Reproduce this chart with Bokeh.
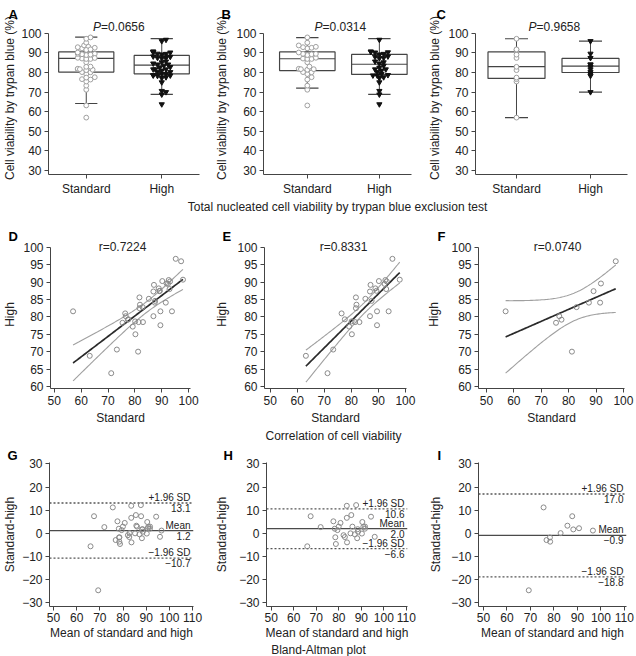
import numpy as np
from bokeh.plotting import figure
from bokeh.layouts import column, row
from bokeh.models import Label, FixedTicker
from bokeh.embed import file_html
from bokeh.resources import INLINE

FONT = "Liberation Sans"

# ---- data: paired viability (%) by trypan blue, standard vs high protocol ----
# subgroup 1 (n=30)
grp1_standard = [63.2, 71.2, 73.3, 76.4, 77.6, 79.2, 80.2, 80.1, 81.4, 81.7,
                 81.9, 81.7, 83.0, 85.2, 87.1, 86.9, 86.9, 87.5, 88.9, 89.3,
                 89.5, 89.5, 90.2, 92.3, 92.6, 92.9, 93.8, 95.2, 97.9, 93.1]
grp1_high = [68.8, 63.8, 70.6, 81.0, 79.3, 77.2, 75.0, 78.7, 78.5, 85.6,
             83.5, 82.5, 78.5, 85.2, 89.2, 87.3, 80.2, 84.6, 88.2, 87.5,
             81.6, 77.6, 90.3, 89.5, 90.6, 88.0, 81.6, 96.7, 90.7, 90.2]
# subgroup 2 (n=11)
grp2_standard = [57.0, 75.4, 76.6, 77.4, 81.2, 82.9, 87.4, 89.1, 91.5, 91.8, 97.2]
grp2_high = [81.6, 78.3, 80.2, 79.2, 70.0, 82.8, 84.1, 87.4, 84.1, 89.6, 96.0]
# all samples
all_standard = grp1_standard + grp2_standard
all_high = grp1_high + grp2_high

groups = ["Standard", "High"]
p_values = ["0.0656", "0.0314", "0.9658"]
r_values = ["0.7224", "0.8331", "0.0740"]

# box statistics: [whisker low, Q1, median, Q3, whisker high]
box_standard = [[64.2, 80.2, 87.2, 90.5, 98.0],
                [72.0, 81.0, 87.0, 90.5, 97.8],
                [57.0, 77.0, 83.0, 90.5, 97.2]]
box_high = [[68.8, 79.3, 83.8, 88.7, 97.3],
            [68.8, 79.0, 84.2, 89.2, 97.3],
            [70.0, 80.0, 83.3, 87.2, 96.0]]

# Bland-Altman bias and limits of agreement
ba_mean = [1.2, 2.0, -0.9]
ba_upper = [13.1, 10.6, 17.0]
ba_lower = [-10.7, -6.6, -18.8]

panel_letters = ["A", "B", "C", "D", "E", "F", "G", "H", "I"]
captions = ["Total nucleated cell viability by trypan blue exclusion test",
            "Correlation of cell viability", "Bland-Altman plot"]

datasets = [(all_standard, all_high), (grp1_standard, grp1_high), (grp2_standard, grp2_high)]

T975 = {9: 2.262, 28: 2.048, 39: 2.023}
INK = "#444444"
TXT = "#222222"
FIG_W = 212


def minus(v):
    return f"{v:.1f}".replace("-", "\u2212")


def make_fig(left, frame_w, top, frame_h, height, xr, yr, letter, letter_dx, letter_standoff):
    p = figure(width=FIG_W, height=height, x_range=xr, y_range=yr,
               output_backend="svg", toolbar_location=None,
               min_border_left=left, min_border_right=FIG_W - left - frame_w,
               min_border_top=top, min_border_bottom=height - top - frame_h)
    p.outline_line_color = None
    p.grid.visible = False
    p.background_fill_color = "white"
    p.border_fill_color = "white"
    for ax in (p.xaxis[0], p.yaxis[0]):
        ax.axis_line_color = INK
        ax.axis_line_width = 1
        ax.major_tick_line_color = INK
        ax.minor_tick_line_color = None
        ax.major_tick_out = 4
        ax.major_tick_in = 0
        ax.major_label_text_font = FONT
        ax.major_label_text_font_size = "12px"
        ax.major_label_text_color = TXT
        ax.major_label_standoff = 3
        ax.axis_label_text_font = FONT
        ax.axis_label_text_font_size = "12px"
        ax.axis_label_text_font_style = "normal"
        ax.axis_label_text_color = TXT
    # panel letter, set in the title slot left of the plotting area
    p.title.text = letter
    p.title.align = "left"
    p.title.offset = letter_dx
    p.title.standoff = letter_standoff
    p.title.vertical_align = "bottom"
    p.title.text_font = FONT
    p.title.text_font_size = "13px"
    p.title.text_font_style = "bold"
    p.title.text_color = "black"
    return p


def swarm(vals, center, ppu_x, ppu_y, d=3.4, step=2.2):
    vals = np.asarray(vals, dtype=float)
    xs = np.full(len(vals), float(center))
    placed = []
    for i in np.argsort(vals):
        yp = vals[i] * ppu_y
        for k in [0, 1, -1, 2, -2, 3, -3, 4, -4]:
            xp = k * step
            if all((xp - a) ** 2 + (yp - b) ** 2 >= d * d for a, b in placed):
                break
        placed.append((xp, yp))
        xs[i] = center + xp / ppu_x
    return xs


# ---------------- row 1: box plots ----------------
row1_specs = [  # left, frame width, x range, y-label standoff, letter offset, P offset
    (43, 156, (0.5, 2.5), 1, -40, -5),
    (47, 152, (0.392, 2.446), 4, -42, 3),
    (51, 152, (0.446, 2.5), 3, -39, 3),
]
row1 = []
for k, (left, fw, xr, ysto, lx, pdx) in enumerate(row1_specs):
    p = make_fig(left, fw, 21, 156, 198, xr, (28, 106), panel_letters[k], lx, 0)
    ppu_x = fw / (xr[1] - xr[0])
    ppu_y = 2.0
    bw = 57 / ppu_x / 2
    cw = 23 / ppu_x / 2
    std, high = datasets[k]
    for c, stats in zip([1, 2], [box_standard[k], box_high[k]]):
        lo, q1, med, q3, hi = stats
        p.segment(x0=[c, c], y0=[lo, q3], x1=[c, c], y1=[q1, hi], line_color=INK, line_width=1)
        p.segment(x0=[c - cw, c - cw], y0=[lo, hi], x1=[c + cw, c + cw], y1=[lo, hi],
                  line_color=INK, line_width=1.2)
        p.quad(left=[c - bw], right=[c + bw], bottom=[q1], top=[q3],
               fill_color="white", line_color=INK, line_width=1.2)
        p.segment(x0=[c - bw], y0=[med], x1=[c + bw], y1=[med], line_color=INK, line_width=1.2)
    if k < 2:
        xs_std = swarm(std, 1, ppu_x, ppu_y)
        xs_high = swarm(high, 2, ppu_x, ppu_y)
    else:
        xs_std = np.full(len(std), 1.0)
        xs_high = np.full(len(high), 2.0)
    p.scatter(xs_std, std, marker="circle", size=4.8, fill_color="white",
              line_color="#a0a0a0", line_width=1)
    p.scatter(xs_high, high, marker="inverted_triangle", size=5.2, fill_color="#111111",
              line_color="#111111")
    p.xaxis[0].ticker = FixedTicker(ticks=[1, 2])
    p.xaxis[0].major_label_overrides = {1: groups[0], 2: groups[1]}
    p.yaxis[0].ticker = FixedTicker(ticks=list(range(30, 101, 10)))
    p.yaxis[0].bounds = (28, 100)
    p.yaxis[0].axis_label = "Cell viability by trypan blue (%)"
    p.yaxis[0].axis_label_standoff = ysto
    mid = (xr[0] + xr[1]) / 2
    p.add_layout(Label(x=mid, y=100, x_offset=pdx - 26, y_offset=6, text="P", text_font=FONT,
                       text_font_size="12px", text_font_style="italic", text_color=TXT,
                       text_baseline="middle", text_align="left"))
    p.add_layout(Label(x=mid, y=100, x_offset=pdx - 18, y_offset=6, text="=" + p_values[k],
                       text_font=FONT, text_font_size="12px", text_color=TXT,
                       text_baseline="middle", text_align="left"))
    row1.append(p)

# ---------------- row 2: correlation ----------------
row2_specs = [
    (43, 147, (48.6, 100.7), 3, -42, 2),
    (47, 147, (47.9, 100.4), 5, -42, 8),
    (53, 147, (47.1, 100.4), 7, -41, 6),
]
row2 = []
for k, (left, fw, xr, ysto, lx, rdx) in enumerate(row2_specs):
    p = make_fig(left, fw, 25, 149, 212, xr, (59.4, 101.97), panel_letters[3 + k], lx, -7)
    xs, ys = np.asarray(datasets[k][0]), np.asarray(datasets[k][1])
    n = len(xs)
    b, a = np.polyfit(xs, ys, 1)
    gx = np.linspace(xs.min(), xs.max(), 80)
    fit = a + b * gx
    se = np.sqrt(np.sum((ys - (a + b * xs)) ** 2) / (n - 2))
    sxx = np.sum((xs - xs.mean()) ** 2)
    hw = T975[n - 2] * se * np.sqrt(1 / n + (gx - xs.mean()) ** 2 / sxx)
    p.line(gx, fit + hw, line_color="#a0a0a0", line_width=1.1)
    p.line(gx, fit - hw, line_color="#a0a0a0", line_width=1.1)
    p.line(gx, fit, line_color="#2a2a2a", line_width=1.7)
    p.scatter(xs, ys, marker="circle", size=5, fill_color=None, line_color="#8a8a8a", line_width=1)
    p.xaxis[0].ticker = FixedTicker(ticks=list(range(50, 101, 10)))
    p.yaxis[0].ticker = FixedTicker(ticks=list(range(60, 101, 5)))
    p.yaxis[0].bounds = (59.4, 100)
    p.xaxis[0].axis_label = "Standard"
    p.xaxis[0].axis_label_standoff = 3
    p.yaxis[0].axis_label = "High"
    p.yaxis[0].axis_label_standoff = ysto
    mid = (xr[0] + xr[1]) / 2
    p.add_layout(Label(x=mid, y=100, x_offset=rdx, y_offset=0, text="r=" + r_values[k],
                       text_font=FONT, text_font_size="12px", text_color=TXT,
                       text_baseline="middle", text_align="center"))
    row2.append(p)

# ---------------- row 3: Bland-Altman ----------------
row3_specs = [
    (43, 150, (48.3, 110.4), 2, -42),
    (48, 147, (47.9, 110.5), 7, -43),
    (54, 148, (47.9, 110.9), 5, -41),
]
row3 = []
ytick3 = list(range(-30, 31, 10))
for k, (left, fw, xr, ysto, lx) in enumerate(row3_specs):
    p = make_fig(left, fw, 19, 145, 199, xr, (-31.6, 30.6), panel_letters[6 + k], lx, 0)
    s, h = np.asarray(datasets[k][0]), np.asarray(datasets[k][1])
    avg = (s + h) / 2
    diff = s - h
    for val, dash, col in [(ba_upper[k], "2 2", "#555555"), (ba_lower[k], "2 2", "#555555"),
                           (ba_mean[k], "solid", "#4a4a4a")]:
        p.line([xr[0], xr[1]], [val, val], line_color=col, line_width=1.3, line_dash=dash)
    p.scatter(avg, diff, marker="circle", size=5, fill_color=None, line_color="#8a8a8a", line_width=1)
    for val, name in [(ba_upper[k], "+1.96 SD"), (ba_mean[k], "Mean"), (ba_lower[k], "\u22121.96 SD")]:
        p.add_layout(Label(x=xr[1], y=val, x_offset=-3, y_offset=0, text=name, text_font=FONT,
                           text_font_size="10px", text_color=TXT, text_align="right",
                           text_baseline="bottom"))
        p.add_layout(Label(x=xr[1], y=val, x_offset=-3, y_offset=-1, text=minus(val), text_font=FONT,
                           text_font_size="10px", text_color=TXT, text_align="right",
                           text_baseline="top"))
    p.xaxis[0].ticker = FixedTicker(ticks=list(range(50, 111, 10)))
    p.yaxis[0].ticker = FixedTicker(ticks=ytick3)
    p.yaxis[0].major_label_overrides = {t: str(t).replace("-", "\u2212") for t in ytick3}
    p.xaxis[0].axis_label = "Mean of standard and high"
    p.xaxis[0].axis_label_standoff = 1
    p.xaxis[0].major_label_standoff = 2
    p.yaxis[0].axis_label = "Standard-high"
    p.yaxis[0].axis_label_standoff = ysto
    row3.append(p)


# ---------------- captions under each row ----------------
def caption(text, height, cx, cy_from_top):
    c = figure(width=636, height=height, x_range=(0, 636), y_range=(0, height),
               output_backend="svg", toolbar_location=None,
               min_border_left=0, min_border_right=0, min_border_top=0, min_border_bottom=0)
    c.axis.visible = False
    c.grid.visible = False
    c.outline_line_color = None
    c.add_layout(Label(x=cx, y=height - cy_from_top, text=text, text_font=FONT,
                       text_font_size="12px", text_color=TXT, text_align="center",
                       text_baseline="middle"))
    return c


cap1 = caption(captions[0], 17, 337, 8.5)
cap2 = caption(captions[1], 16, 333, 8)
cap3 = caption(captions[2], 14, 318, 7)

layout = column(row(*row1), cap1, row(*row2), cap2, row(*row3), cap3)

open("out.html", "w").write(file_html(layout, INLINE))
